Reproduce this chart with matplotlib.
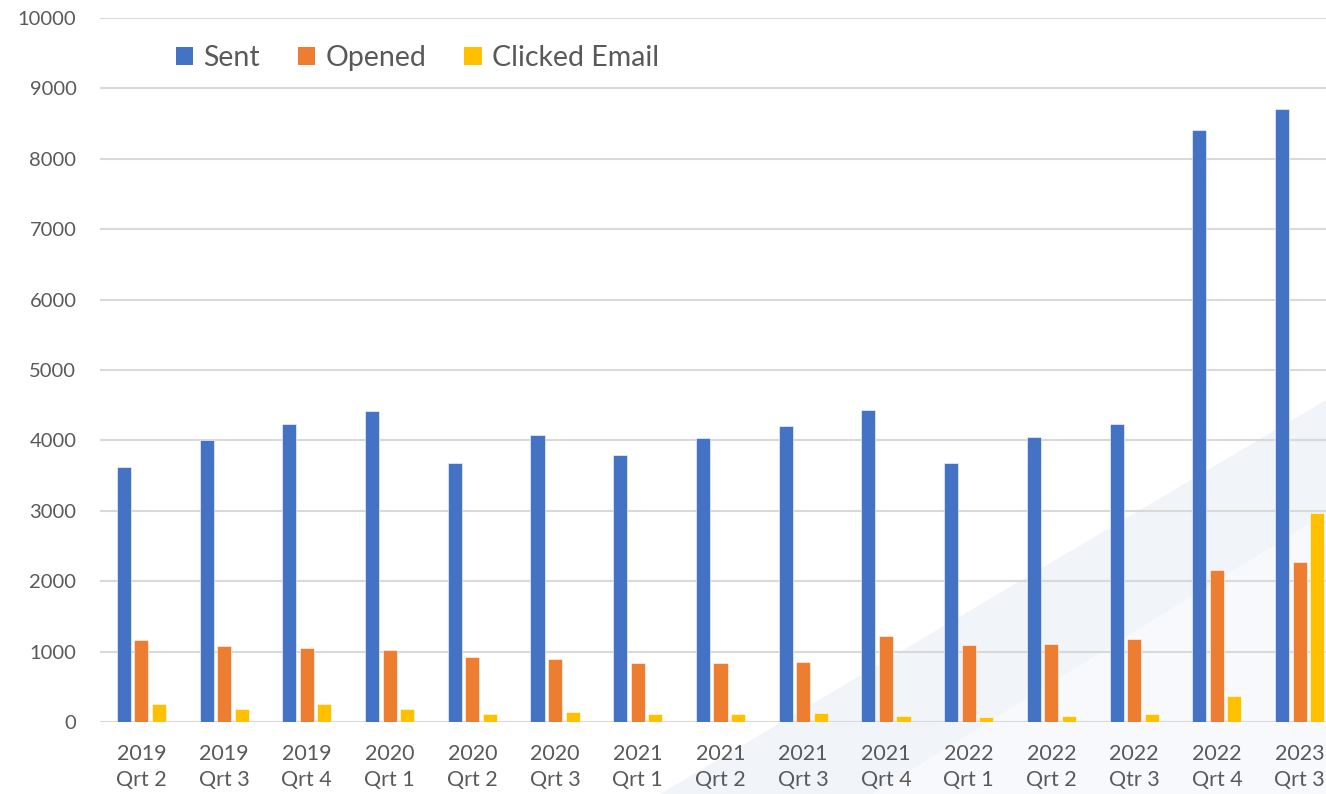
import numpy as np
import matplotlib
matplotlib.use("Agg")
import matplotlib.pyplot as plt
from matplotlib.patches import Patch, Polygon

# data
quarters = ["2019\nQrt 2", "2019\nQrt 3", "2019\nQrt 4", "2020\nQrt 1", "2020\nQrt 2",
            "2020\nQrt 3", "2021\nQrt 1", "2021\nQrt 2", "2021\nQrt 3", "2021\nQrt 4",
            "2022\nQrt 1", "2022\nQrt 2", "2022\nQtr 3", "2022\nQrt 4", "2023\nQrt 3"]
sent = [3620, 4000, 4230, 4420, 3680, 4080, 3790, 4030, 4200, 4430, 3680, 4050, 4240, 8410, 8710]
opened = [1165, 1075, 1050, 1027, 919, 890, 838, 843, 852, 1226, 1098, 1103, 1179, 2164, 2277]
clicked = [251, 185, 256, 185, 118, 146, 109, 118, 128, 81, 67, 90, 109, 369, 2965]

series_names = ["Sent", "Opened", "Clicked Email"]
colors = ["#4472C4", "#ED7D31", "#FFC000"]
text_color = "#595959"

plt.rcParams['font.family'] = ['Lato', 'DejaVu Sans']

W, H = 1326, 794
fig = plt.figure(figsize=(W / 100, H / 100), dpi=100)

# faint diagonal decoration in the lower right corner (pixel coords -> figure fraction)
def px(pts):
    return [(x / W, 1 - y / H) for x, y in pts]

fig.patches.append(Polygon(px([(660, 794), (1326, 400), (1326, 794)]), closed=True,
                           facecolor="#f1f4f9", edgecolor="none",
                           transform=fig.transFigure, zorder=-2))
fig.patches.append(Polygon(px([(872, 794), (1326, 513), (1326, 794)]), closed=True,
                           facecolor="#f8f9fc", edgecolor="none",
                           transform=fig.transFigure, zorder=-1))

ax = fig.add_axes([100 / W, 72 / H, 1241 / W, 704 / H])
ax.set_zorder(2)
ax.set_facecolor("none")

x = np.arange(len(quarters))
bw = 0.17
offs = [-0.212, 0.0, 0.212]
for vals, name, c, o in zip([sent, opened, clicked], series_names, colors, offs):
    ax.bar(x + o, vals, width=bw, color=c, edgecolor="white", linewidth=0.4,
           label=name, zorder=3)

ax.set_xlim(-0.5, len(quarters) - 0.5)
ax.set_ylim(0, 10000)
ax.set_yticks(np.arange(0, 10001, 1000))
ax.grid(axis="y", color="#d9d9d9", linewidth=1.5, zorder=0)
ax.set_axisbelow(True)
for s in ax.spines.values():
    s.set_visible(False)

ax.set_xticks(x)
ax.set_xticklabels(quarters, fontsize=15.5, color=text_color, linespacing=1.35)
ax.tick_params(axis="x", length=0, pad=16)
ax.tick_params(axis="y", length=0, pad=17, labelsize=14.5, labelcolor=text_color)

handles = [Patch(facecolor=c, edgecolor="none") for c in colors]
leg = ax.legend(handles, series_names, loc="center left",
                bbox_to_anchor=(176 / W, 1 - 58 / H), bbox_transform=fig.transFigure,
                ncol=3, frameon=False, fontsize=20.5, handlelength=0.6, handleheight=0.6,
                handletextpad=0.35, columnspacing=1.35, borderpad=0, borderaxespad=0)
for t in leg.get_texts():
    t.set_color(text_color)

fig.savefig("out.png", dpi=100)
